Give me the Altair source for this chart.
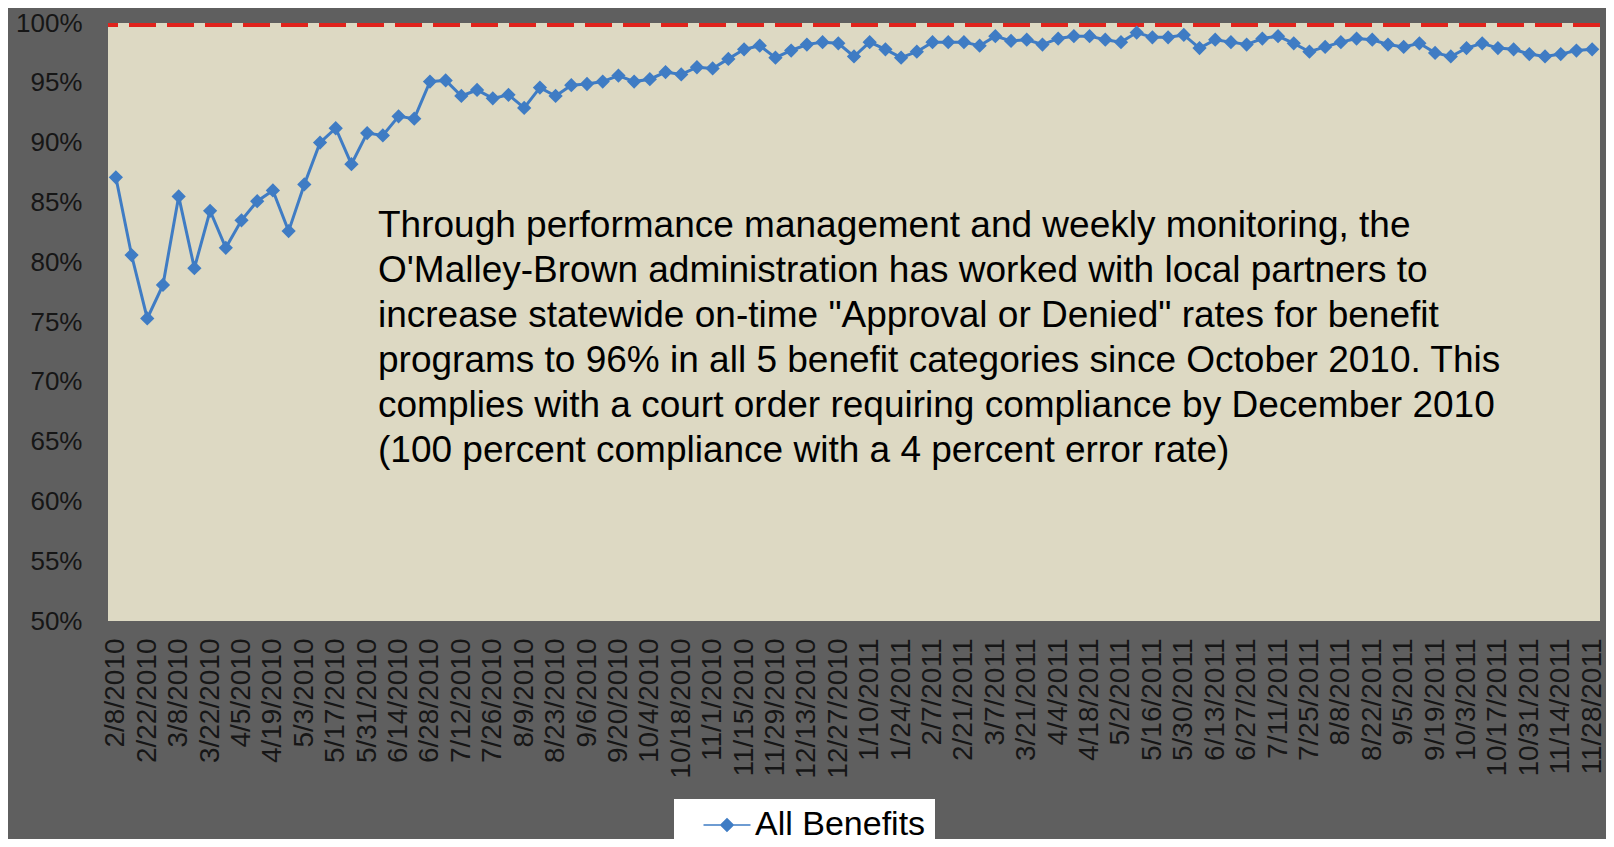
import altair as alt
import pandas as pd

weeks = [
    "2/8/2010", "2/15/2010", "2/22/2010", "3/1/2010", "3/8/2010", "3/15/2010", "3/22/2010", "3/29/2010",
    "4/5/2010", "4/12/2010", "4/19/2010", "4/26/2010", "5/3/2010", "5/10/2010", "5/17/2010", "5/24/2010",
    "5/31/2010", "6/7/2010", "6/14/2010", "6/21/2010", "6/28/2010", "7/5/2010", "7/12/2010", "7/19/2010",
    "7/26/2010", "8/2/2010", "8/9/2010", "8/16/2010", "8/23/2010", "8/30/2010", "9/6/2010", "9/13/2010",
    "9/20/2010", "9/27/2010", "10/4/2010", "10/11/2010", "10/18/2010", "10/25/2010", "11/1/2010", "11/8/2010",
    "11/15/2010", "11/22/2010", "11/29/2010", "12/6/2010", "12/13/2010", "12/20/2010", "12/27/2010",
    "1/3/2011", "1/10/2011", "1/17/2011", "1/24/2011", "1/31/2011", "2/7/2011", "2/14/2011", "2/21/2011",
    "2/28/2011", "3/7/2011", "3/14/2011", "3/21/2011", "3/28/2011", "4/4/2011", "4/11/2011", "4/18/2011",
    "4/25/2011", "5/2/2011", "5/9/2011", "5/16/2011", "5/23/2011", "5/30/2011", "6/6/2011", "6/13/2011",
    "6/20/2011", "6/27/2011", "7/4/2011", "7/11/2011", "7/18/2011", "7/25/2011", "8/1/2011", "8/8/2011",
    "8/15/2011", "8/22/2011", "8/29/2011", "9/5/2011", "9/12/2011", "9/19/2011", "9/26/2011", "10/3/2011",
    "10/10/2011", "10/17/2011", "10/24/2011", "10/31/2011", "11/7/2011", "11/14/2011", "11/21/2011",
    "11/28/2011",
]

all_benefits = [
    87.1, 80.6, 75.3, 78.1, 85.5, 79.5, 84.3, 81.2, 83.5, 85.1,
    86.0, 82.6, 86.5, 90.0, 91.2, 88.2, 90.8, 90.6, 92.2, 92.0,
    95.1, 95.2, 93.9, 94.4, 93.7, 94.0, 92.9, 94.6, 93.9, 94.8,
    94.9, 95.1, 95.6, 95.1, 95.3, 95.9, 95.7, 96.3, 96.2, 97.0,
    97.8, 98.1, 97.1, 97.7, 98.2, 98.4, 98.3, 97.2, 98.4, 97.8,
    97.1, 97.6, 98.4, 98.4, 98.4, 98.1, 98.9, 98.5, 98.6, 98.2,
    98.7, 98.9, 98.9, 98.6, 98.4, 99.2, 98.8, 98.8, 99.0, 97.9,
    98.6, 98.4, 98.2, 98.7, 98.9, 98.3, 97.6, 98.0, 98.4, 98.7,
    98.6, 98.2, 98.0, 98.3, 97.5, 97.2, 97.9, 98.3, 97.9, 97.8,
    97.4, 97.2, 97.4, 97.7, 97.8,
]

tick_labels = weeks[::2]
y_ticks = [50, 55, 60, 65, 70, 75, 80, 85, 90, 95, 100]
target = [100]
series_name = "All Benefits"

note_lines = [
    "Through performance management and weekly monitoring, the",
    "O'Malley-Brown administration has worked with local partners to",
    "increase statewide on-time \"Approval or Denied\" rates for benefit",
    "programs to 96% in all 5 benefit categories since October 2010. This",
    "complies with a court order requiring compliance by December 2010",
    "(100 percent compliance with a 4 percent error rate)",
]

BLUE = "#3F7CC4"
RED = "#E0231C"
FONT = "Liberation Sans"

df = pd.DataFrame({"week": weeks, "value": all_benefits, "series": series_name})
df_target = pd.DataFrame({"value": target})
df_note = pd.DataFrame({"note": ["\n".join(note_lines)]})

y_scale = alt.Scale(domain=[50, 100], nice=False, zero=False)
x_enc = alt.X(
    "week:N",
    sort=weeks,
    scale=alt.Scale(type="point", padding=0.5),
    axis=alt.Axis(
        values=tick_labels,
        labelAngle=-90,
        labelFontSize=28,
        labelColor="#161616",
        labelPadding=17,
        labelOverlap=False,
        ticks=False,
        domain=False,
        grid=False,
        title=None,
        labelFont=FONT,
    ),
)
y_enc = alt.Y(
    "value:Q",
    scale=y_scale,
    axis=alt.Axis(
        values=y_ticks,
        labelExpr="datum.value + '%'",
        grid=False,
        ticks=False,
        domain=False,
        labelPadding=26,
        labelFontSize=26,
        labelColor="#161616",
        labelFont=FONT,
        title=None,
    ),
)

line = alt.Chart(df).mark_line(color=BLUE, strokeWidth=3).encode(x=x_enc, y=y_enc)

points = alt.Chart(df).mark_point(
    shape="diamond", filled=True, size=115, stroke=BLUE, strokeWidth=2.5, opacity=1
).encode(
    x=x_enc,
    y=y_enc,
    color=alt.Color(
        "series:N",
        scale=alt.Scale(range=[BLUE]),
        legend=alt.Legend(
            title=None,
            orient="none",
            legendX=566,
            legendY=776,
            fillColor="white",
            padding=9,
            symbolType="M-2.35,0L2.35,0M0,-0.62L0.62,0L0,0.62L-0.62,0Z",
            symbolSize=400,
            symbolOffset=27,
            labelOffset=11,
            labelFontSize=34,
            labelColor="#000000",
            labelFont=FONT,
            labelLimit=500,
        ),
    ),
)

rule = alt.Chart(df_target).mark_rule(
    color=RED, strokeWidth=4, strokeDash=[27, 11], yOffset=2
).encode(y=y_enc)

note = alt.Chart(df_note).mark_text(
    align="left",
    baseline="alphabetic",
    fontSize=37,
    lineHeight=45,
    lineBreak="\n",
    color="#000000",
    font=FONT,
).encode(text="note:N", x=alt.value(270), y=alt.value(214))

chart = (
    alt.layer(rule, line, points, note)
    .properties(
        width=1492,
        height=598,
        background="#5f5f5f",
        padding={"left": 100, "top": 15, "right": 6, "bottom": 218},
        autosize=alt.AutoSizeParams(type="none"),
    )
    .configure(font=FONT)
    .configure_view(fill="#DDD9C3", strokeWidth=0)
)

chart.save("out.html", embed_options={"renderer": "svg", "actions": False})
